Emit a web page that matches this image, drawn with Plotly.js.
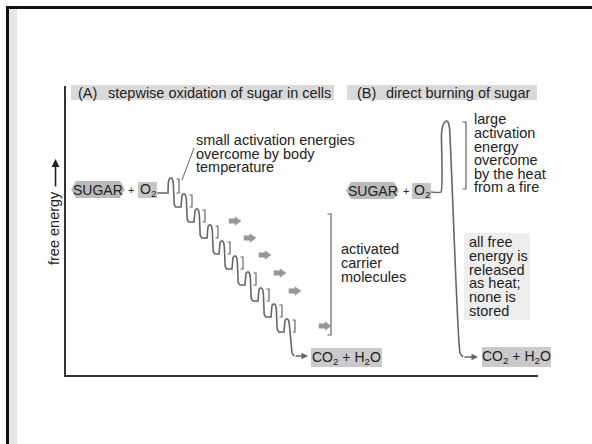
<!DOCTYPE html>
<html><head><meta charset="utf-8">
<script src="https://cdn.plot.ly/plotly-3.0.1.min.js"></script>
<style>html,body{margin:0;padding:0;background:#fff}#chart{width:592px;height:444px}</style>
</head><body><div id="chart"></div>
<script>
// ---------- values (x to the right, y = free-energy position, down = lower) ----------
// (A) stepwise oxidation: hump peaks and the level that precedes each hump
const stepPeakX  = [171, 184, 197, 210, 222, 235, 248, 261, 274, 287];
const stepPeakY  = [178, 194, 209, 225, 241, 256, 272, 288, 304, 319];
const stepLevelY = [193, 207, 222, 238, 254, 269, 285, 301, 317, 332];
const startA = [157, 193];          // leaves the O2 box
const endA   = [293, 356];          // bottom of the last fall (CO2 + H2O level)
const productArrowA = [308, 356];
// activated carrier molecules (grey block arrows)
const carrierX = [229, 244, 259, 274, 289, 319];
const carrierY = [221, 238, 255, 273, 291, 326];
// (B) direct burning: one large barrier
const burnX = [431, 441, 441.5, 443, 445, 446.5, 448, 449.5, 460, 463];
const burnY = [192, 192, 134, 125, 122, 121, 122, 128, 353, 357];
const productArrowB = [478, 357];
// brackets
const bracketA = {x: 331, y0: 214, y1: 335};
const bracketB = {x: 466, y0: 122, y1: 189};
const leader   = {x: [182, 194], y: [180, 148]};

// texts
const titleA = ['(A)', 'stepwise oxidation of sugar in cells'];
const titleB = ['(B)', 'direct burning of sugar'];
const noteSmall   = ['small activation energies', 'overcome by body', 'temperature'];
const noteCarrier = ['activated', 'carrier', 'molecules'];
const noteLarge   = ['large', 'activation', 'energy', 'overcome', 'by the heat', 'from a fire'];
const noteHeat    = ['all free', 'energy is', 'released', 'as heat;', 'none is', 'stored'];
const yLabel = 'free energy';
const sugar = 'SUGAR', plus = '+', oxygen = 'O<sub>2</sub>', products = 'CO<sub>2</sub> + H<sub>2</sub>O';

// ---------- layout geometry ----------
const L = 66, R = 538, T = 86, B = 375, W = 592, H = 444;
const px = v => (v - L) / (R - L);
const py = v => (B - v) / (B - T);
const FONT = 'Liberation Sans, Arial, Helvetica, sans-serif';
const TXT = '#222', LINE = '#666';
const FS = 14.5;

// stepwise path
const ax = [startA[0]], ay = [startA[1]];
for (let k = 0; k < stepPeakX.length; k++) {
  const x = stepPeakX[k], p = stepPeakY[k], lv = stepLevelY[k];
  ax.push(x - 3, x - 2.7, x - 2, x - 0.8, x + 0.6, x + 1.6, x + 2.3);
  ay.push(lv, p + 5, p + 1.5, p, p, p + 1.5, p + 5);
  if (k < stepPeakX.length - 1) {
    const nx = stepLevelY[k + 1];
    ax.push(x + 3.2, x + 4.8);
    ay.push(nx - 2.5, nx);
  } else {
    ax.push(endA[0] - 1, endA[0] + 1);
    ay.push(endA[1] - 3, endA[1]);
  }
}

// small brackets beside each hump
const bx = [], by = [];
for (let k = 0; k < stepPeakX.length; k++) {
  const x = stepPeakX[k] + 8;
  bx.push(x - 2.5, x, x, x - 2.5, null);
  by.push(stepPeakY[k] + 1, stepPeakY[k] + 1, stepLevelY[k], stepLevelY[k], null);
}
// big brackets
[bracketA, bracketB].forEach(b => {
  bx.push(b.x - 3.5, b.x, b.x, b.x - 3.5, null);
  by.push(b.y0, b.y0, b.y1, b.y1, null);
});

// carrier block arrows
const cx = [], cy = [];
carrierX.forEach((x, i) => {
  const y = carrierY[i];
  cx.push(x, x + 6, x + 6, x + 12, x + 6, x + 6, x, x, null);
  cy.push(y - 2.2, y - 2.2, y - 4.2, y, y + 4.2, y + 2.2, y + 2.2, y - 2.2, null);
});

const traces = [
  {x: ax, y: ay, mode: 'lines', line: {color: LINE, width: 1.6}, hoverinfo: 'skip'},
  {x: burnX, y: burnY, mode: 'lines', line: {color: LINE, width: 1.6, shape: 'spline', smoothing: 0.4}, hoverinfo: 'skip'},
  {x: bx, y: by, mode: 'lines', line: {color: '#666', width: 1.2}, hoverinfo: 'skip', connectgaps: false},
  {x: leader.x, y: leader.y, mode: 'lines', line: {color: '#666', width: 1}, hoverinfo: 'skip'},
  {x: cx, y: cy, mode: 'lines', fill: 'toself', fillcolor: '#979797', line: {color: '#979797', width: 0.5}, hoverinfo: 'skip'}
];

// shapes (paper refs so nothing is clipped)
const rect = (x0, y0, x1, y1, c) => ({type: 'rect', xref: 'paper', yref: 'paper', layer: 'below',
  x0: px(x0), x1: px(x1), y0: py(y1), y1: py(y0), fillcolor: c, line: {width: 0}});
const hexPath = (x0, y0, x1, y1) => {
  const ym = (y0 + y1) / 2, d = 5;
  const pts = [[x0, ym], [x0 + d, y0], [x1 - d, y0], [x1, ym], [x1 - d, y1], [x0 + d, y1]];
  return 'M' + pts.map(p => px(p[0]) + ',' + py(p[1])).join(' L') + ' Z';
};
const shapes = [
  // page frame
  {type: 'rect', xref: 'paper', yref: 'paper', layer: 'below', x0: px(9), x1: px(17), y0: py(H), y1: py(9), fillcolor: '#e6e6e6', line: {width: 0}},
  {type: 'line', xref: 'paper', yref: 'paper', x0: px(7.5), x1: px(7.5), y0: py(6), y1: py(H + 2), line: {color: '#111', width: 3}},
  {type: 'line', xref: 'paper', yref: 'paper', x0: px(6), x1: px(W + 2), y0: py(7.5), y1: py(7.5), line: {color: '#111', width: 3}},
  rect(71, 85, 334, 100, '#d9d9d9'),
  rect(347, 85, 537, 100, '#d9d9d9'),
  {type: 'path', xref: 'paper', yref: 'paper', layer: 'below', path: hexPath(71, 181, 125, 198), fillcolor: '#bababa', line: {width: 0}},
  rect(138, 182, 157, 198, '#c6c6c6'),
  {type: 'path', xref: 'paper', yref: 'paper', layer: 'below', path: hexPath(346, 182, 399, 199), fillcolor: '#bababa', line: {width: 0}},
  rect(412, 183, 431, 199, '#c6c6c6'),
  rect(311, 348, 382, 367, '#cacaca'),
  rect(482, 347, 551, 367, '#cacaca'),
  rect(464, 233, 530, 320, '#eeeeee')
];

const annotations = [];
const txt = (x, y, t, opt = {}) => annotations.push(Object.assign({
  x, y, xref: 'x', yref: 'y', text: t, showarrow: false, xanchor: 'left', yanchor: 'middle',
  font: {family: FONT, size: FS, color: TXT}}, opt));
txt(76, 92.5, titleA[0]); txt(106, 92.5, titleA[1]);
txt(355, 92.5, titleB[0]); txt(384, 92.5, titleB[1]);
[140, 154, 167].forEach((y, i) => txt(194, y, noteSmall[i]));
[249, 263, 277].forEach((y, i) => txt(339, y, noteCarrier[i]));
[119, 133, 147, 160, 174, 187].forEach((y, i) => txt(472, y, noteLarge[i]));
[242, 256, 270, 283, 297, 311].forEach((y, i) => txt(467, y, noteHeat[i]));
const big = {family: FONT, size: 14, color: TXT};
txt(98, 190, sugar, {xanchor: 'center', font: big});
txt(131, 190, plus, {xanchor: 'center', font: {family: FONT, size: 11, color: TXT}});
txt(147.5, 190, oxygen, {xanchor: 'center', font: big});
txt(372.5, 191, sugar, {xanchor: 'center', font: big});
txt(405.5, 191, plus, {xanchor: 'center', font: {family: FONT, size: 11, color: TXT}});
txt(421.5, 191, oxygen, {xanchor: 'center', font: big});
txt(346.5, 357.5, products, {xanchor: 'center', font: big});
txt(516.5, 357, products, {xanchor: 'center', font: big});
// product arrows
annotations.push({x: productArrowA[0], y: productArrowA[1], ax: endA[0] + 1, ay: endA[1], xref: 'x', yref: 'y', axref: 'x', ayref: 'y',
  text: '', showarrow: true, arrowhead: 2, arrowsize: 1, arrowwidth: 1.3, arrowcolor: LINE});
annotations.push({x: productArrowB[0], y: productArrowB[1], ax: burnX[burnX.length - 1], ay: burnY[burnY.length - 1], xref: 'x', yref: 'y', axref: 'x', ayref: 'y',
  text: '', showarrow: true, arrowhead: 2, arrowsize: 1, arrowwidth: 1.3, arrowcolor: LINE});
// y axis label and arrow
annotations.push({x: px(54), y: py(228), xref: 'paper', yref: 'paper', text: yLabel, textangle: -90, showarrow: false,
  xanchor: 'center', yanchor: 'middle', font: {family: FONT, size: FS, color: TXT}});
annotations.push({x: px(55.5), y: py(159), xref: 'paper', yref: 'paper', ax: 0, ay: 29, text: '', showarrow: true,
  arrowhead: 2, arrowsize: 1, arrowwidth: 1.6, arrowcolor: '#222'});

const layout = {
  width: W, height: H, margin: {l: L, r: W - R, t: T, b: H - B, pad: 0},
  paper_bgcolor: '#fff', plot_bgcolor: 'rgba(0,0,0,0)', showlegend: false,
  xaxis: {range: [L, R], showline: true, linecolor: '#333', linewidth: 2, showgrid: false, zeroline: false, showticklabels: false, ticks: '', fixedrange: true},
  yaxis: {range: [B, T], showline: true, linecolor: '#333', linewidth: 2, showgrid: false, zeroline: false, showticklabels: false, ticks: '', fixedrange: true},
  shapes, annotations
};
Plotly.newPlot('chart', traces, layout, {staticPlot: true, displayModeBar: false});
</script></body></html>
